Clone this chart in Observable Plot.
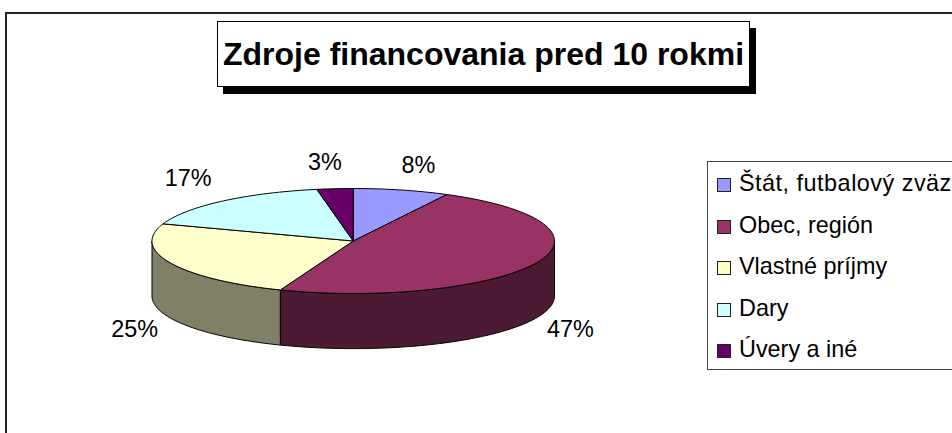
<!DOCTYPE html>
<html>
<head>
<meta charset="utf-8">
<script src="https://cdn.jsdelivr.net/npm/d3@7"></script>
<script src="https://cdn.jsdelivr.net/npm/@observablehq/plot@0.6"></script>
<style>
html,body{margin:0;padding:0;background:#fff;overflow:hidden}
#page{position:relative;width:952px;height:433px;overflow:hidden;font-family:"Liberation Sans",Arial,sans-serif;color:#000}
#frame{position:absolute;left:5px;top:12px;width:960px;height:440px;border:2px solid #222;box-sizing:border-box}
#chart{position:absolute;left:0;top:0}
#chart svg{display:block;background:transparent}
#title{position:absolute;left:217px;top:21px;width:533px;height:66px;box-sizing:border-box;border:1px solid #000;background:#fff;box-shadow:6px 7px 0 #000;font-weight:bold;font-size:32px;line-height:64px;text-align:center;white-space:nowrap}
#legend{position:absolute;left:707px;top:161px;width:260px;height:209px;box-sizing:border-box;border:1.5px solid #444;background:#fff}
.row{position:absolute;left:9px;height:26px;line-height:26px;font-size:23.4px;white-space:nowrap}
.row:first-child{letter-spacing:.5px}
.sw{position:absolute;left:0;top:7px;width:14px;height:14px;box-sizing:border-box;border:1px solid #222}
.lb{position:absolute;left:22px;top:-1px}
</style>
</head>
<body>
<div id="page">
<div id="frame"></div>
<div id="chart"></div>
<div id="title"></div>
<div id="legend"></div>
</div>
<script>
const chartTitle = "Zdroje financovania pred 10 rokmi";
const categories = ["Štát, futbalový zväz", "Obec, región", "Vlastné príjmy", "Dary", "Úvery a iné"];
// slice shares
const shares = [7.7, 48.2, 24.4, 16.8, 2.9];
const percentLabels = ["8%", "47%", "25%", "17%", "3%"];
const colors = ["#9999FF", "#993366", "#FFFFCC", "#CCFFFF", "#660066"];
const sideColors = ["#4C4C80", "#4C1A33", "#808066", "#668080", "#330033"];
const labelNudge = [[17, -25], [34, 67], [-36, 66], [-34, -23], [-10, -26]];

const depth = 1.05; // rim height, in units of the ellipse's vertical radius
const total = d3.sum(shares);
let acc = 0;
const slices = shares.map((v, i) => {
  const a0 = acc / total * 2 * Math.PI; acc += v;
  return {i, a0, a1: acc / total * 2 * Math.PI};
});
const rim = (a, drop = 0) => ({x: Math.sin(a), y: Math.cos(a) - drop});
const arc = (a0, a1, drop = 0) => {
  const n = Math.max(2, Math.ceil((a1 - a0) / 0.02));
  return d3.range(n + 1).map(k => rim(a0 + (a1 - a0) * k / n, drop));
};
const topPoly = s => [{x: 0, y: 0}, ...arc(s.a0, s.a1), {x: 0, y: 0}];
const sidePoly = (a0, a1) => {
  const up = arc(a0, a1), down = arc(a0, a1, depth).reverse();
  return [...up, ...down, up[0]];
};
const marks = [];
// front wall: only the part of each slice between 3 and 9 o'clock is visible
for (const s of slices) {
  const a0 = Math.max(s.a0, Math.PI / 2), a1 = Math.min(s.a1, 3 * Math.PI / 2);
  if (a1 > a0) marks.push(Plot.line(sidePoly(a0, a1), {x: "x", y: "y", fill: sideColors[s.i], stroke: "#000", strokeWidth: 1, curve: "linear"}));
}
for (const s of slices) {
  marks.push(Plot.line(topPoly(s), {x: "x", y: "y", fill: colors[s.i], stroke: "#000", strokeWidth: 1, curve: "linear"}));
}
slices.forEach(s => {
  const p = rim((s.a0 + s.a1) / 2);
  marks.push(Plot.text([percentLabels[s.i]], {
    x: () => p.x, y: () => p.y, text: d => d,
    dx: labelNudge[s.i][0], dy: labelNudge[s.i][1],
    fontSize: 23.4, fill: "#000", stroke: "none", textAnchor: "middle"
  }));
});
const plot = Plot.plot({
  width: 952, height: 433,
  margin: 0,
  style: {background: "transparent", fontFamily: "'Liberation Sans', Arial, sans-serif", overflow: "visible"},
  x: {domain: [-1, 1], range: [151.5, 554], axis: null},
  y: {domain: [1, -1], range: [188, 293], axis: null},
  marks
});
document.getElementById("chart").appendChild(plot);
document.getElementById("title").textContent = chartTitle;
const legend = document.getElementById("legend");
categories.forEach((c, i) => {
  const row = document.createElement("div");
  row.className = "row";
  row.style.top = (9 + i * 41.5) + "px";
  const sw = document.createElement("div");
  sw.className = "sw"; sw.style.background = colors[i];
  const lb = document.createElement("div");
  lb.className = "lb"; lb.textContent = c;
  row.append(sw, lb);
  legend.append(row);
});
</script>
</body>
</html>
